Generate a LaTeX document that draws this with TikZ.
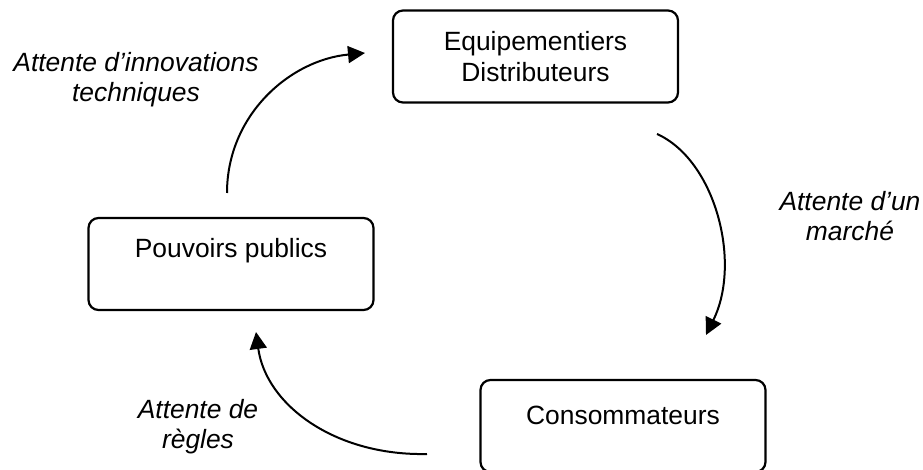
\documentclass[tikz,border=0pt]{standalone}
\usepackage{fontspec}
\setmainfont{Liberation Sans}
\usepackage{tikz}
\usetikzlibrary{arrows.meta}

\begin{document}
\begin{tikzpicture}[x=0.5pt,y=-0.5pt,
	main node/.style={draw, line width=1.1pt, rounded corners=5pt, inner sep=0pt,
		minimum width=142.5pt, minimum height=46pt, align=center,
		font=\fontsize{13.2}{15.8}\selectfont},
	label node/.style={align=center, inner sep=0pt,
		font=\fontsize{13.2}{15}\selectfont\itshape},
	cycle arrow/.style={line width=1pt, -{Triangle[length=8.5pt,width=8.5pt]}}]
			\useasboundingbox (0,0) rectangle (923,470);
			% Nodes
			\node [main node] (equip) at (535.5,56.5) {Equipementiers\\Distributeurs};
			\node [main node, text height=10pt, text depth=16.7pt] (pouv) at (231,264) {Pouvoirs publics};
			\node [main node, text height=10pt, text depth=11.7pt] (conso) at (623,426) {Consommateurs};
			
			\node [label node] (l1) at (136,80) {Attente d’innovations\\techniques};
			\node [label node] (l2) at (850,216) {Attente d’un\\marché};
			\node [label node] (l3) at (198,427) {Attente de\\règles};
			
			% arrow ends
			\coordinate (a1) at (227,193);
			\coordinate (b1) at (365,53);
			\coordinate (a2) at (657,134);
			\coordinate (b2) at (706,335);
			\coordinate (a3) at (427,454);
			\coordinate (b3) at (256,332);
			
			\draw[cycle arrow] (a1) .. controls (227,115) and (290,60) .. (b1);
			\draw[cycle arrow] (a2) .. controls (715,160) and (742,262) .. (b2);
			\draw[cycle arrow] (a3) .. controls (335,456) and (266,405) .. (b3);
			
		\end{tikzpicture}
\end{document}
